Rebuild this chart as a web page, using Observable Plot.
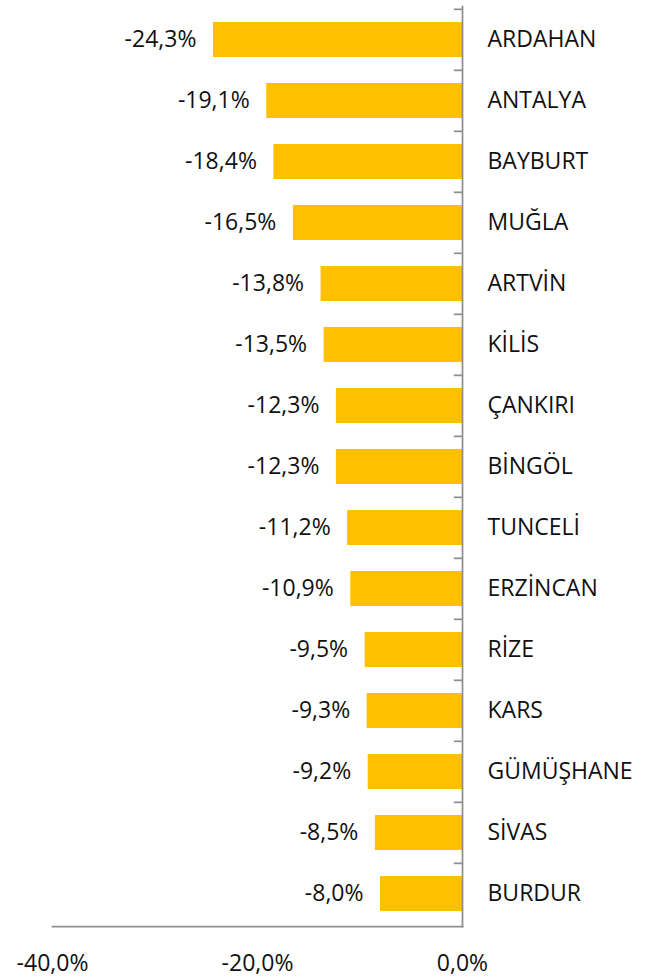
<!DOCTYPE html>
<html>
<head>
<meta charset="utf-8">
<script src="https://cdn.jsdelivr.net/npm/d3@7"></script>
<script src="https://cdn.jsdelivr.net/npm/@observablehq/plot@0.6"></script>
<style>
  html, body { margin: 0; padding: 0; background: #fff; }
</style>
</head>
<body>
<div id="chart"></div>
<script>
const provinces = ["ARDAHAN","ANTALYA","BAYBURT","MUĞLA","ARTVİN","KİLİS","ÇANKIRI","BİNGÖL","TUNCELİ","ERZİNCAN","RİZE","KARS","GÜMÜŞHANE","SİVAS","BURDUR"];
const changes = [-24.3,-19.1,-18.4,-16.5,-13.8,-13.5,-12.3,-12.3,-11.2,-10.9,-9.5,-9.3,-9.2,-8.5,-8.0];
const xTicks = [-40,-20,0];

const data = provinces.map((p, i) => ({province: p, value: changes[i]}));
const fmt = v => v.toFixed(1).replace(".", ",") + "%";

const W = 649, H = 977;
const mTop = 6, mBottom = 51, mLeft = 52, mRight = 187;
const step = (H - mTop - mBottom) / provinces.length;
const axisColor = "#8f8f8f";

const chart = Plot.plot({
  width: W,
  height: H,
  marginTop: mTop,
  marginBottom: mBottom,
  marginLeft: mLeft,
  marginRight: mRight,
  style: {fontFamily: "'Open Sans', sans-serif", fontSize: "23px", color: "#111", background: "#fff"},
  x: {domain: [-40, 0]},
  y: {domain: provinces, paddingInner: 0.43, paddingOuter: 0.215},
  marks: [
    Plot.barX(data, {y: "province", x: "value", fill: "#FFC000"}),
    Plot.text(data, {y: "province", x: "value", text: d => fmt(d.value), textAnchor: "end", dx: -17, fill: "#111"}),
    Plot.frame({anchor: "bottom", stroke: axisColor, strokeWidth: 1.75}),
    Plot.frame({anchor: "right", stroke: axisColor, strokeWidth: 1.75}),
    Plot.ruleY(provinces, {y: d => d, x1: -0.8, x2: 0, dy: -step / 2, stroke: axisColor, strokeWidth: 1.75}),
    Plot.axisX({ticks: xTicks, tickFormat: fmt, tickSize: 0, tickPadding: 28, label: null, fill: "#111"}),
    Plot.axisY({anchor: "right", tickSize: 0, tickPadding: 25, label: null, textAnchor: "start", fill: "#111"})
  ]
});
document.getElementById("chart").appendChild(chart);
</script>
</body>
</html>
